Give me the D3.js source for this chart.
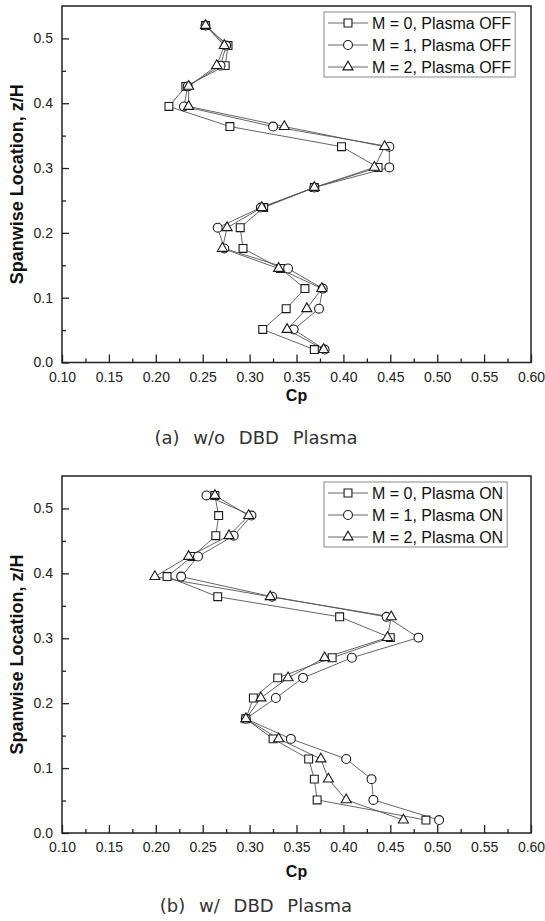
<!DOCTYPE html>
<html>
<head>
<meta charset="utf-8">
<script src="https://cdn.jsdelivr.net/npm/d3@7"></script>
<style>
  body { margin: 0; background: #fff; }
  svg { display: block; }
</style>
</head>
<body>
<svg id="chart" width="545" height="921"></svg>
<script>
// Spanwise measurement stations (z/H)
const zLevels = [0.020, 0.051, 0.083, 0.114, 0.145, 0.176, 0.208, 0.239, 0.270,
                 0.301, 0.333, 0.364, 0.395, 0.426, 0.458, 0.489, 0.520];

// Pressure coefficient, plasma off
const cpOffM0 = [0.369, 0.314, 0.339, 0.359, 0.333, 0.293, 0.290, 0.315, 0.369,
                 0.437, 0.398, 0.279, 0.214, 0.232, 0.274, 0.277, 0.253];
const cpOffM1 = [0.380, 0.347, 0.374, 0.378, 0.341, 0.273, 0.266, 0.312, 0.369,
                 0.449, 0.449, 0.325, 0.230, 0.234, 0.269, 0.275, 0.253];
const cpOffM2 = [0.379, 0.340, 0.361, 0.377, 0.331, 0.271, 0.276, 0.313, 0.369,
                 0.433, 0.444, 0.337, 0.235, 0.235, 0.265, 0.273, 0.253];

// Pressure coefficient, plasma on
const cpOnM0 = [0.488, 0.372, 0.369, 0.363, 0.325, 0.296, 0.304, 0.330, 0.388,
                0.450, 0.396, 0.266, 0.212, 0.239, 0.264, 0.267, 0.263];
const cpOnM1 = [0.502, 0.432, 0.430, 0.403, 0.344, 0.296, 0.328, 0.357, 0.409,
                0.480, 0.446, 0.324, 0.227, 0.245, 0.283, 0.302, 0.254];
const cpOnM2 = [0.464, 0.403, 0.384, 0.376, 0.331, 0.296, 0.312, 0.341, 0.380,
                0.447, 0.451, 0.322, 0.199, 0.235, 0.278, 0.299, 0.263];

const xTicks = [0.10, 0.15, 0.20, 0.25, 0.30, 0.35, 0.40, 0.45, 0.50, 0.55, 0.60];
const xMinorTicks = [0.125, 0.175, 0.225, 0.275, 0.325, 0.375, 0.425, 0.475, 0.525, 0.575];
const yTicks = [0.0, 0.1, 0.2, 0.3, 0.4, 0.5];
const yMinorTicks = [0.05, 0.15, 0.25, 0.35, 0.45];

const legendOff = ["M = 0, Plasma OFF", "M = 1, Plasma OFF", "M = 2, Plasma OFF"];
const legendOn  = ["M = 0, Plasma ON",  "M = 1, Plasma ON",  "M = 2, Plasma ON"];
const captions = ["(a) w/o DBD Plasma", "(b) w/ DBD Plasma"];
const xTitle = "Cp";
const yTitle = "Spanwise Location, z/H";

const FONT = "'Liberation Sans', Arial, sans-serif";
const svg = d3.select("#chart");
svg.append("rect").attr("width", 545).attr("height", 921).attr("fill", "#fff");

const x = d3.scaleLinear().domain([0.10, 0.60]).range([62, 531]);
const symbols = [d3.symbolSquare, d3.symbolCircle, d3.symbolTriangle];
const symbolSizes = [62, 62, 44];

function drawPanel(top, bottom, seriesList, labels, caption, titleGap, captionGap) {
  const y = d3.scaleLinear().domain([0, 0.55]).range([bottom, top]);
  const g = svg.append("g");

  // minor ticks
  g.append("g").attr("transform", `translate(0,${bottom})`)
    .call(d3.axisBottom(x).tickValues(xMinorTicks).tickSize(-4).tickSizeOuter(0).tickFormat(""))
    .call(a => a.select(".domain").remove());
  g.append("g").attr("transform", `translate(${x.range()[0]},0)`)
    .call(d3.axisLeft(y).tickValues(yMinorTicks).tickSize(-4).tickSizeOuter(0).tickFormat(""))
    .call(a => a.select(".domain").remove());

  // major ticks + labels
  const xa = g.append("g").attr("transform", `translate(0,${bottom})`)
    .call(d3.axisBottom(x).tickValues(xTicks).tickSize(-8).tickSizeOuter(0)
      .tickPadding(9.5).tickFormat(d3.format(".2f")));
  const ya = g.append("g").attr("transform", `translate(${x.range()[0]},0)`)
    .call(d3.axisLeft(y).tickValues(yTicks).tickSize(-7).tickSizeOuter(0)
      .tickPadding(9).tickFormat(d3.format(".1f")));
  [xa, ya].forEach(a => {
    a.select(".domain").remove();
    a.selectAll("text").attr("font-family", FONT).attr("font-size", 14).attr("fill", "#222");
  });
  g.selectAll(".tick line").attr("stroke", "#222").attr("stroke-width", 1.3);

  // frame
  g.append("rect")
    .attr("x", x.range()[0]).attr("y", top)
    .attr("width", x.range()[1] - x.range()[0]).attr("height", bottom - top)
    .attr("fill", "none").attr("stroke", "#222").attr("stroke-width", 1.5);

  // series lines then markers
  const line = d3.line().x(d => x(d.cp)).y(d => y(d.z));
  seriesList.forEach((vals, i) => {
    const pts = vals.map((cp, k) => ({ cp, z: zLevels[k] }));
    g.append("path").datum(pts).attr("d", line)
      .attr("fill", "none").attr("stroke", "#555").attr("stroke-width", 0.9);
  });
  seriesList.forEach((vals, i) => {
    const pts = vals.map((cp, k) => ({ cp, z: zLevels[k] }));
    g.append("g").selectAll("path").data(pts).join("path")
      .attr("d", d3.symbol(symbols[i], symbolSizes[i]))
      .attr("transform", d => `translate(${x(d.cp)},${y(d.z)})`)
      .attr("fill", "#fff").attr("stroke", "#1a1a1a").attr("stroke-width", 1.1);
  });

  // legend
  const lg = g.append("g");
  const rowY = [top + 17, top + 39, top + 61];
  const box = lg.append("rect").attr("fill", "#fff").attr("stroke", "#888").attr("stroke-width", 1);
  let maxW = 0;
  labels.forEach((lab, i) => {
    lg.append("line").attr("x1", 328).attr("x2", 368).attr("y1", rowY[i]).attr("y2", rowY[i])
      .attr("stroke", "#555").attr("stroke-width", 0.9);
    lg.append("path").attr("d", d3.symbol(symbols[i], symbolSizes[i]))
      .attr("transform", `translate(348,${rowY[i]})`)
      .attr("fill", "#fff").attr("stroke", "#1a1a1a").attr("stroke-width", 1.1);
    const t = lg.append("text").attr("x", 372).attr("y", rowY[i] + 6)
      .attr("font-family", FONT).attr("font-size", 16).attr("fill", "#111").text(lab);
    maxW = Math.max(maxW, t.node().getComputedTextLength());
  });
  box.attr("x", 324).attr("y", top + 6).attr("width", 372 + maxW + 4 - 324).attr("height", 65);

  // axis titles
  g.append("text").attr("x", (x.range()[0] + x.range()[1]) / 2).attr("y", bottom + titleGap)
    .attr("text-anchor", "middle").attr("font-family", FONT).attr("font-weight", "bold")
    .attr("font-size", 16).attr("fill", "#111").text(xTitle);
  g.append("text")
    .attr("transform", `translate(23,${(top + bottom) / 2}) rotate(-90)`)
    .attr("text-anchor", "middle").attr("font-family", FONT).attr("font-weight", "bold")
    .attr("font-size", 18).attr("fill", "#111").text(yTitle);

  // panel caption
  g.append("text").attr("x", 256).attr("y", bottom + captionGap)
    .attr("text-anchor", "middle").attr("font-family", "'DejaVu Sans', sans-serif")
    .attr("font-size", 18).attr("word-spacing", 8).attr("fill", "#333").text(caption);
}

drawPanel(6, 362.5, [cpOffM0, cpOffM1, cpOffM2], legendOff, captions[0], 38, 81);
drawPanel(476, 833, [cpOnM0, cpOnM1, cpOnM2], legendOn, captions[1], 44, 79);
</script>
</body>
</html>
